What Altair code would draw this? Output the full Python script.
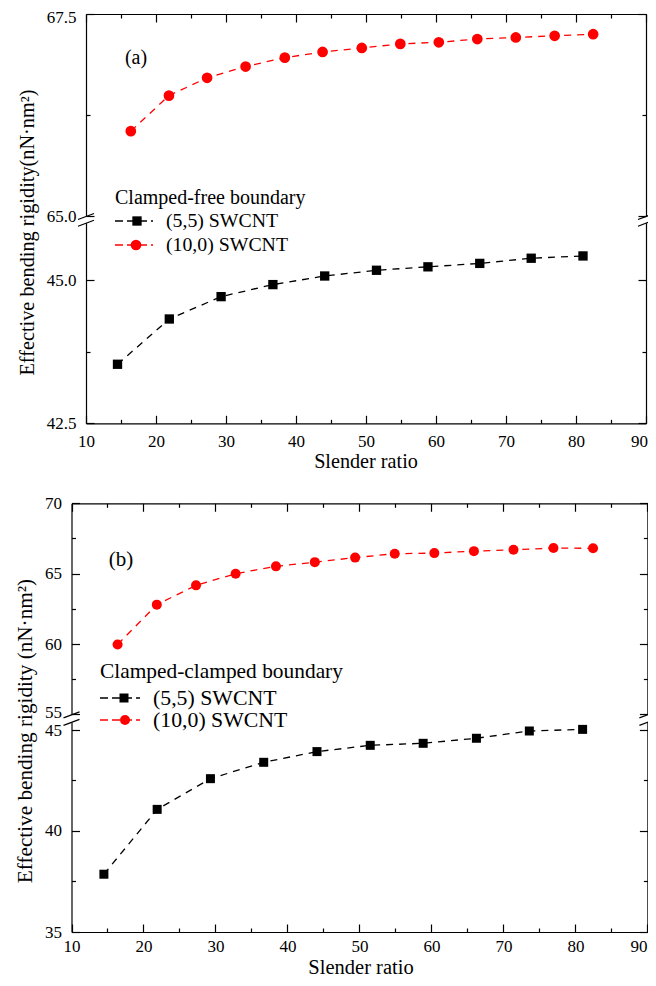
import altair as alt
import pandas as pd

FONT = "Liberation Serif"
W, H = 640, 970

# ---------------- data ----------------
x_red = [16.4, 21.85, 27.3, 32.8, 38.4, 43.8, 49.4, 54.9, 60.4, 65.9, 71.4, 76.95, 82.45]
x_black = [14.5, 21.9, 29.3, 36.7, 44.1, 51.5, 58.85, 66.25, 73.6, 81.0]

a_red = [66.05, 66.49, 66.71, 66.85, 66.96, 67.03, 67.08, 67.13, 67.15, 67.19, 67.21, 67.23, 67.25]
a_black = [43.53, 44.32, 44.71, 44.92, 45.07, 45.17, 45.23, 45.29, 45.38, 45.42]
b_red = [59.97, 62.8, 64.17, 65.0, 65.52, 65.82, 66.14, 66.42, 66.46, 66.6, 66.7, 66.82, 66.8]
b_black = [37.86, 41.07, 42.59, 43.40, 43.93, 44.24, 44.34, 44.59, 44.95, 45.03]

x_ticks = [10, 15, 20, 25, 30, 35, 40, 45, 50, 55, 60, 65, 70, 75, 80, 85, 90]
a_upper_ticks = [65.0, 66.25, 67.5]
a_lower_ticks = [42.5, 43.75, 45.0]
b_upper_ticks = [55, 57.5, 60, 62.5, 65, 67.5, 70]
b_lower_ticks = [35, 37.5, 40, 42.5, 45]

series_names = ["(5,5) SWCNT", "(10,0) SWCNT"]
legend_titles = ["Clamped-free boundary", "Clamped-clamped boundary"]
panel_labels = ["(a)", "(b)"]
x_title = "Slender ratio"
y_titles = ["Effective bending rigidity(nN\u00b7nm\u00b2)", "Effective bending rigidity (nN\u00b7nm\u00b2)"]

RED = "#ff0000"
BLACK = "#000000"


def axis(orient, offset, values, major, fmt=None, labels=True, nudge=None, pad=18):
    kw = dict(orient=orient, offset=offset, values=values, grid=False,
              domainColor="black", domainWidth=1.2, tickColor="black", tickWidth=1.2,
              tickSize={"condition": {"test": major, "value": -8}, "value": -4},
              labels=labels, title=None, labelFlush=False, labelOverlap=False)
    if labels:
        kw.update(labelExpr=f"({major}) ? datum.label : ''", labelFont=FONT,
                  labelFontSize=17, labelColor="black", labelPadding=pad)
        if fmt:
            kw["format"] = fmt
        if nudge:
            kw["labelOffset"] = {
                "condition": [{"test": f"datum.value === {v}", "value": d} for v, d in nudge],
                "value": 0,
            }
    return alt.Axis(**kw)


def segment(xs, ys, color, shape, size, xr, ydom, yr, yvals, ymaj, yfmt, top,
            ynudge=None, xnudge=None, xpad=18):
    df = pd.DataFrame({"x": xs, "y": ys})
    xsc = alt.Scale(domain=[10, 90], range=xr, nice=False, zero=False)
    ysc = alt.Scale(domain=ydom, range=yr, nice=False, zero=False)
    xmaj = "datum.value % 10 === 0"
    if top:
        x_line_axis = None
        x_pt_axis = axis("top", -yr[1], x_ticks, xmaj, labels=False)
    else:
        x_line_axis = axis("bottom", yr[0] - H, x_ticks, xmaj, fmt="d", nudge=xnudge, pad=xpad)
        x_pt_axis = None
    line = alt.Chart(df).mark_line(color=color, strokeDash=[7, 6], strokeWidth=1.3).encode(
        x=alt.X("x:Q", scale=xsc, axis=x_line_axis),
        y=alt.Y("y:Q", scale=ysc, axis=axis("left", -xr[0], yvals, ymaj, fmt=yfmt, nudge=ynudge)),
    )
    pts = alt.Chart(df).mark_point(shape=shape, filled=True, size=size, color=color, opacity=1).encode(
        x=alt.X("x:Q", scale=xsc, axis=x_pt_axis),
        y=alt.Y("y:Q", scale=ysc, axis=axis("right", xr[1] - W, yvals, ymaj, labels=False)),
    )
    return alt.layer(line, pts).resolve_axis(x="independent", y="independent")


def txt(s, x, y, size, align="left", baseline="middle", angle=0):
    return alt.Chart(pd.DataFrame({"t": [s]})).mark_text(
        align=align, baseline=baseline, angle=angle, font=FONT, fontSize=size, color="black"
    ).encode(x=alt.value(x), y=alt.value(y), text="t:N")


def seg(x1, y1, x2, y2, color="black", width=1.2, dash=None):
    kw = dict(color=color, strokeWidth=width)
    if dash:
        kw["strokeDash"] = dash
    return alt.Chart(pd.DataFrame({"k": [0]})).mark_rule(**kw).encode(
        x=alt.value(x1), y=alt.value(y1), x2=alt.value(x2), y2=alt.value(y2))


def sym(x, y, shape, size, color):
    return alt.Chart(pd.DataFrame({"k": [0]})).mark_point(
        shape=shape, filled=True, size=size, color=color, opacity=1
    ).encode(x=alt.value(x), y=alt.value(y))


# ---------------- layout (pixels inside the chart) ----------------
A_X = [78, 638]
A_UP_Y = [208, 6]
A_LO_Y = [415.3, 214.7]
B_X = [63.5, 639.4]
B_UP_Y = [706.4, 495.3]
B_LO_Y = [924, 713.9]

layers = [
    segment(x_red, a_red, RED, "circle", 115, A_X, [65.0, 67.5], A_UP_Y,
            a_upper_ticks, "datum.value % 2.5 === 0", ".1f", True, ynudge=[(67.5, 3)]),
    segment(x_black, a_black, BLACK, "square", 87, A_X, [42.5, 46.0], A_LO_Y,
            a_lower_ticks, "datum.value % 2.5 === 0", ".1f", False, xnudge=[(90, -7)]),
    segment(x_red, b_red, RED, "circle", 100, B_X, [55, 70], B_UP_Y,
            b_upper_ticks, "datum.value % 5 === 0", "d", True, ynudge=[(55, -2)]),
    segment(x_black, b_black, BLACK, "square", 81, B_X, [35, 45.4], B_LO_Y,
            b_lower_ticks, "datum.value % 5 === 0", "d", False, ynudge=[(45, 0.5)],
            xnudge=[(90, -9)], xpad=14),
]

decor = []
# axis breaks
for xr, yu, yl in [(A_X, A_UP_Y[0], A_LO_Y[1]), (B_X, B_UP_Y[0], B_LO_Y[1])]:
    for ax in xr:
        for yy in (yu + 0.5, yl + 0.5):
            decor.append(seg(ax - 8, yy + 3, ax + 8, yy - 3))

# titles
decor += [
    txt(x_title, 358, 460, 20.2, align="center", baseline="alphabetic"),
    txt(x_title, 353, 966, 20.5, align="center", baseline="alphabetic"),
    txt(y_titles[0], 20, 224.5, 20.3, align="center", angle=270),
    txt(y_titles[1], 18, 723, 21.2, align="center", angle=270),
    txt(panel_labels[0], 128, 50, 20, align="center"),
    txt(panel_labels[1], 113, 552, 21, align="center"),
]

# legend (a)
decor += [
    txt(legend_titles[0], 107, 196, 20, baseline="alphabetic"),
    seg(107, 213, 145, 213, BLACK, 1.3, [8, 4]),
    sym(129, 213, "square", 87, BLACK),
    txt(series_names[0], 158, 213, 19.8),
    seg(107, 237, 145, 237, RED, 1.3, [8, 4]),
    sym(128, 237, "circle", 115, RED),
    txt(series_names[1], 158, 237, 19.8),
]
# legend (b)
decor += [
    txt(legend_titles[1], 92, 670, 21.4, baseline="alphabetic"),
    seg(92, 690, 132, 690, BLACK, 1.3, [8, 4]),
    sym(116, 690, "square", 81, BLACK),
    txt(series_names[0], 145, 690, 21.8),
    seg(92, 712, 132, 712, RED, 1.3, [8, 4]),
    sym(117, 712, "circle", 100, RED),
    txt(series_names[1], 145, 712, 21.8),
]

chart = alt.layer(*layers, *decor).resolve_scale(
    x="independent", y="independent"
).resolve_axis(
    x="independent", y="independent"
).properties(
    width=W, height=H, padding=0, background="white",
    autosize=alt.AutoSizeParams(type="none"),
).configure_view(stroke=None)

chart.save("out.html", embed_options={"renderer": "svg", "actions": False})
